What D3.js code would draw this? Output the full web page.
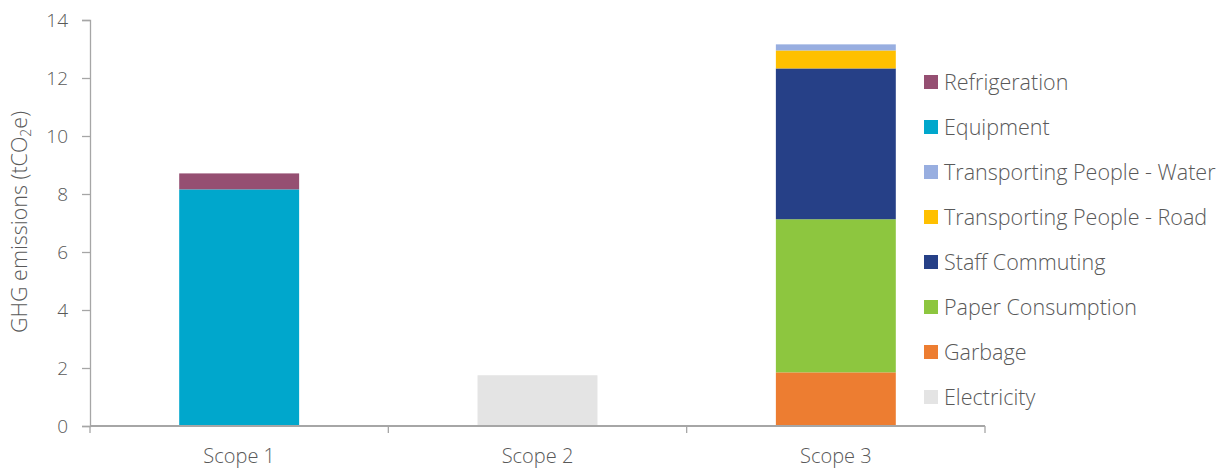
<!DOCTYPE html>
<html><head><meta charset="utf-8">
<script src="https://cdn.jsdelivr.net/npm/d3@7/dist/d3.min.js"></script>
<style>
html,body{margin:0;padding:0;background:#fff;}
text{font-family:"Open Sans","Segoe UI",sans-serif;font-weight:300;fill:#595959;}
</style></head>
<body><svg id="c" width="1226" height="470"></svg>
<script>
const categories = ["Scope 1", "Scope 2", "Scope 3"];
const seriesNames = ["Electricity", "Garbage", "Paper Consumption", "Staff Commuting",
  "Transporting People - Road", "Transporting People - Water", "Equipment", "Refrigeration"];
const electricity = [0, 1.75, 0];
const garbage = [0, 0, 1.85];
const paperConsumption = [0, 0, 5.28];
const staffCommuting = [0, 0, 5.20];
const transportRoad = [0, 0, 0.62];
const transportWater = [0, 0, 0.21];
const equipment = [8.16, 0, 0];
const refrigeration = [0.55, 0, 0];
const seriesColors = ["#E4E4E4", "#ED7D31", "#8DC63F", "#264087", "#FFC000", "#98AEE0", "#00A7CC", "#954F72"];
const yTicks = [0, 2, 4, 6, 8, 10, 12, 14];

const seriesValues = [electricity, garbage, paperConsumption, staffCommuting, transportRoad, transportWater, equipment, refrigeration];
const table = categories.map((c, i) => {
  const row = {category: c};
  seriesNames.forEach((s, j) => row[s] = seriesValues[j][i]);
  return row;
});

const svg = d3.select("#c");
const mLeft = 90, mRight = 985, mTop = 20, mBottom = 426;
const x = d3.scaleBand().domain(categories).range([mLeft, mRight]).paddingInner(0.598).paddingOuter(0.299);
const y = d3.scaleLinear().domain([0, 14]).range([mBottom, mTop]);
const color = d3.scaleOrdinal().domain(seriesNames).range(seriesColors);

const stacked = d3.stack().keys(seriesNames)(table);
svg.append("g").selectAll("g").data(stacked).join("g")
  .attr("fill", d => color(d.key))
  .selectAll("rect").data(d => d).join("rect")
  .attr("x", d => x(d.data.category))
  .attr("width", x.bandwidth())
  .attr("y", d => y(d[1]))
  .attr("height", d => y(d[0]) - y(d[1]));

// y axis
const yAxis = svg.append("g").attr("transform", `translate(${mLeft},0)`)
  .call(d3.axisLeft(y).tickValues(yTicks).tickSize(8).tickPadding(14).tickFormat(d3.format("d")));
yAxis.select(".domain").attr("stroke", "#A6A6A6").attr("stroke-width", 1.3);
yAxis.selectAll(".tick line").attr("stroke", "#A6A6A6").attr("stroke-width", 1.3);
yAxis.selectAll("text").attr("font-size", 19).style("fill", "#595959");

// x axis
const xg = svg.append("g").attr("transform", `translate(0,${mBottom})`);
xg.append("line").attr("x1", mLeft).attr("x2", mRight).attr("stroke", "#A6A6A6").attr("stroke-width", 2);
const bounds = [mLeft, ...categories.map(c => x(c) + x.bandwidth() / 2 + x.step() / 2)];
xg.selectAll("line.t").data(bounds).join("line").attr("class", "t")
  .attr("x1", d => d).attr("x2", d => d).attr("y1", 0).attr("y2", 7)
  .attr("stroke", "#A6A6A6").attr("stroke-width", 1.3);
xg.selectAll("text").data(categories).join("text")
  .attr("x", d => x(d) + x.bandwidth() / 2).attr("y", 37)
  .attr("text-anchor", "middle").attr("font-size", 20).text(d => d);

// y title
svg.append("text").attr("transform", "translate(27,222) rotate(-90)")
  .attr("text-anchor", "middle").attr("font-size", 21.5)
  .html('GHG emissions (tCO<tspan font-size="14" dy="4">2</tspan><tspan dy="-4">e)</tspan>');

// legend
const legendOrder = seriesNames.slice().reverse();
const lg = svg.append("g").selectAll("g").data(legendOrder).join("g")
  .attr("transform", (d, i) => `translate(924,${82 + i * 45})`);
lg.append("rect").attr("x", 0).attr("y", -7).attr("width", 14).attr("height", 14).attr("fill", d => color(d));
lg.append("text").attr("x", 20).attr("y", 7.5).attr("font-size", 21.5).text(d => d);
</script></body></html>
